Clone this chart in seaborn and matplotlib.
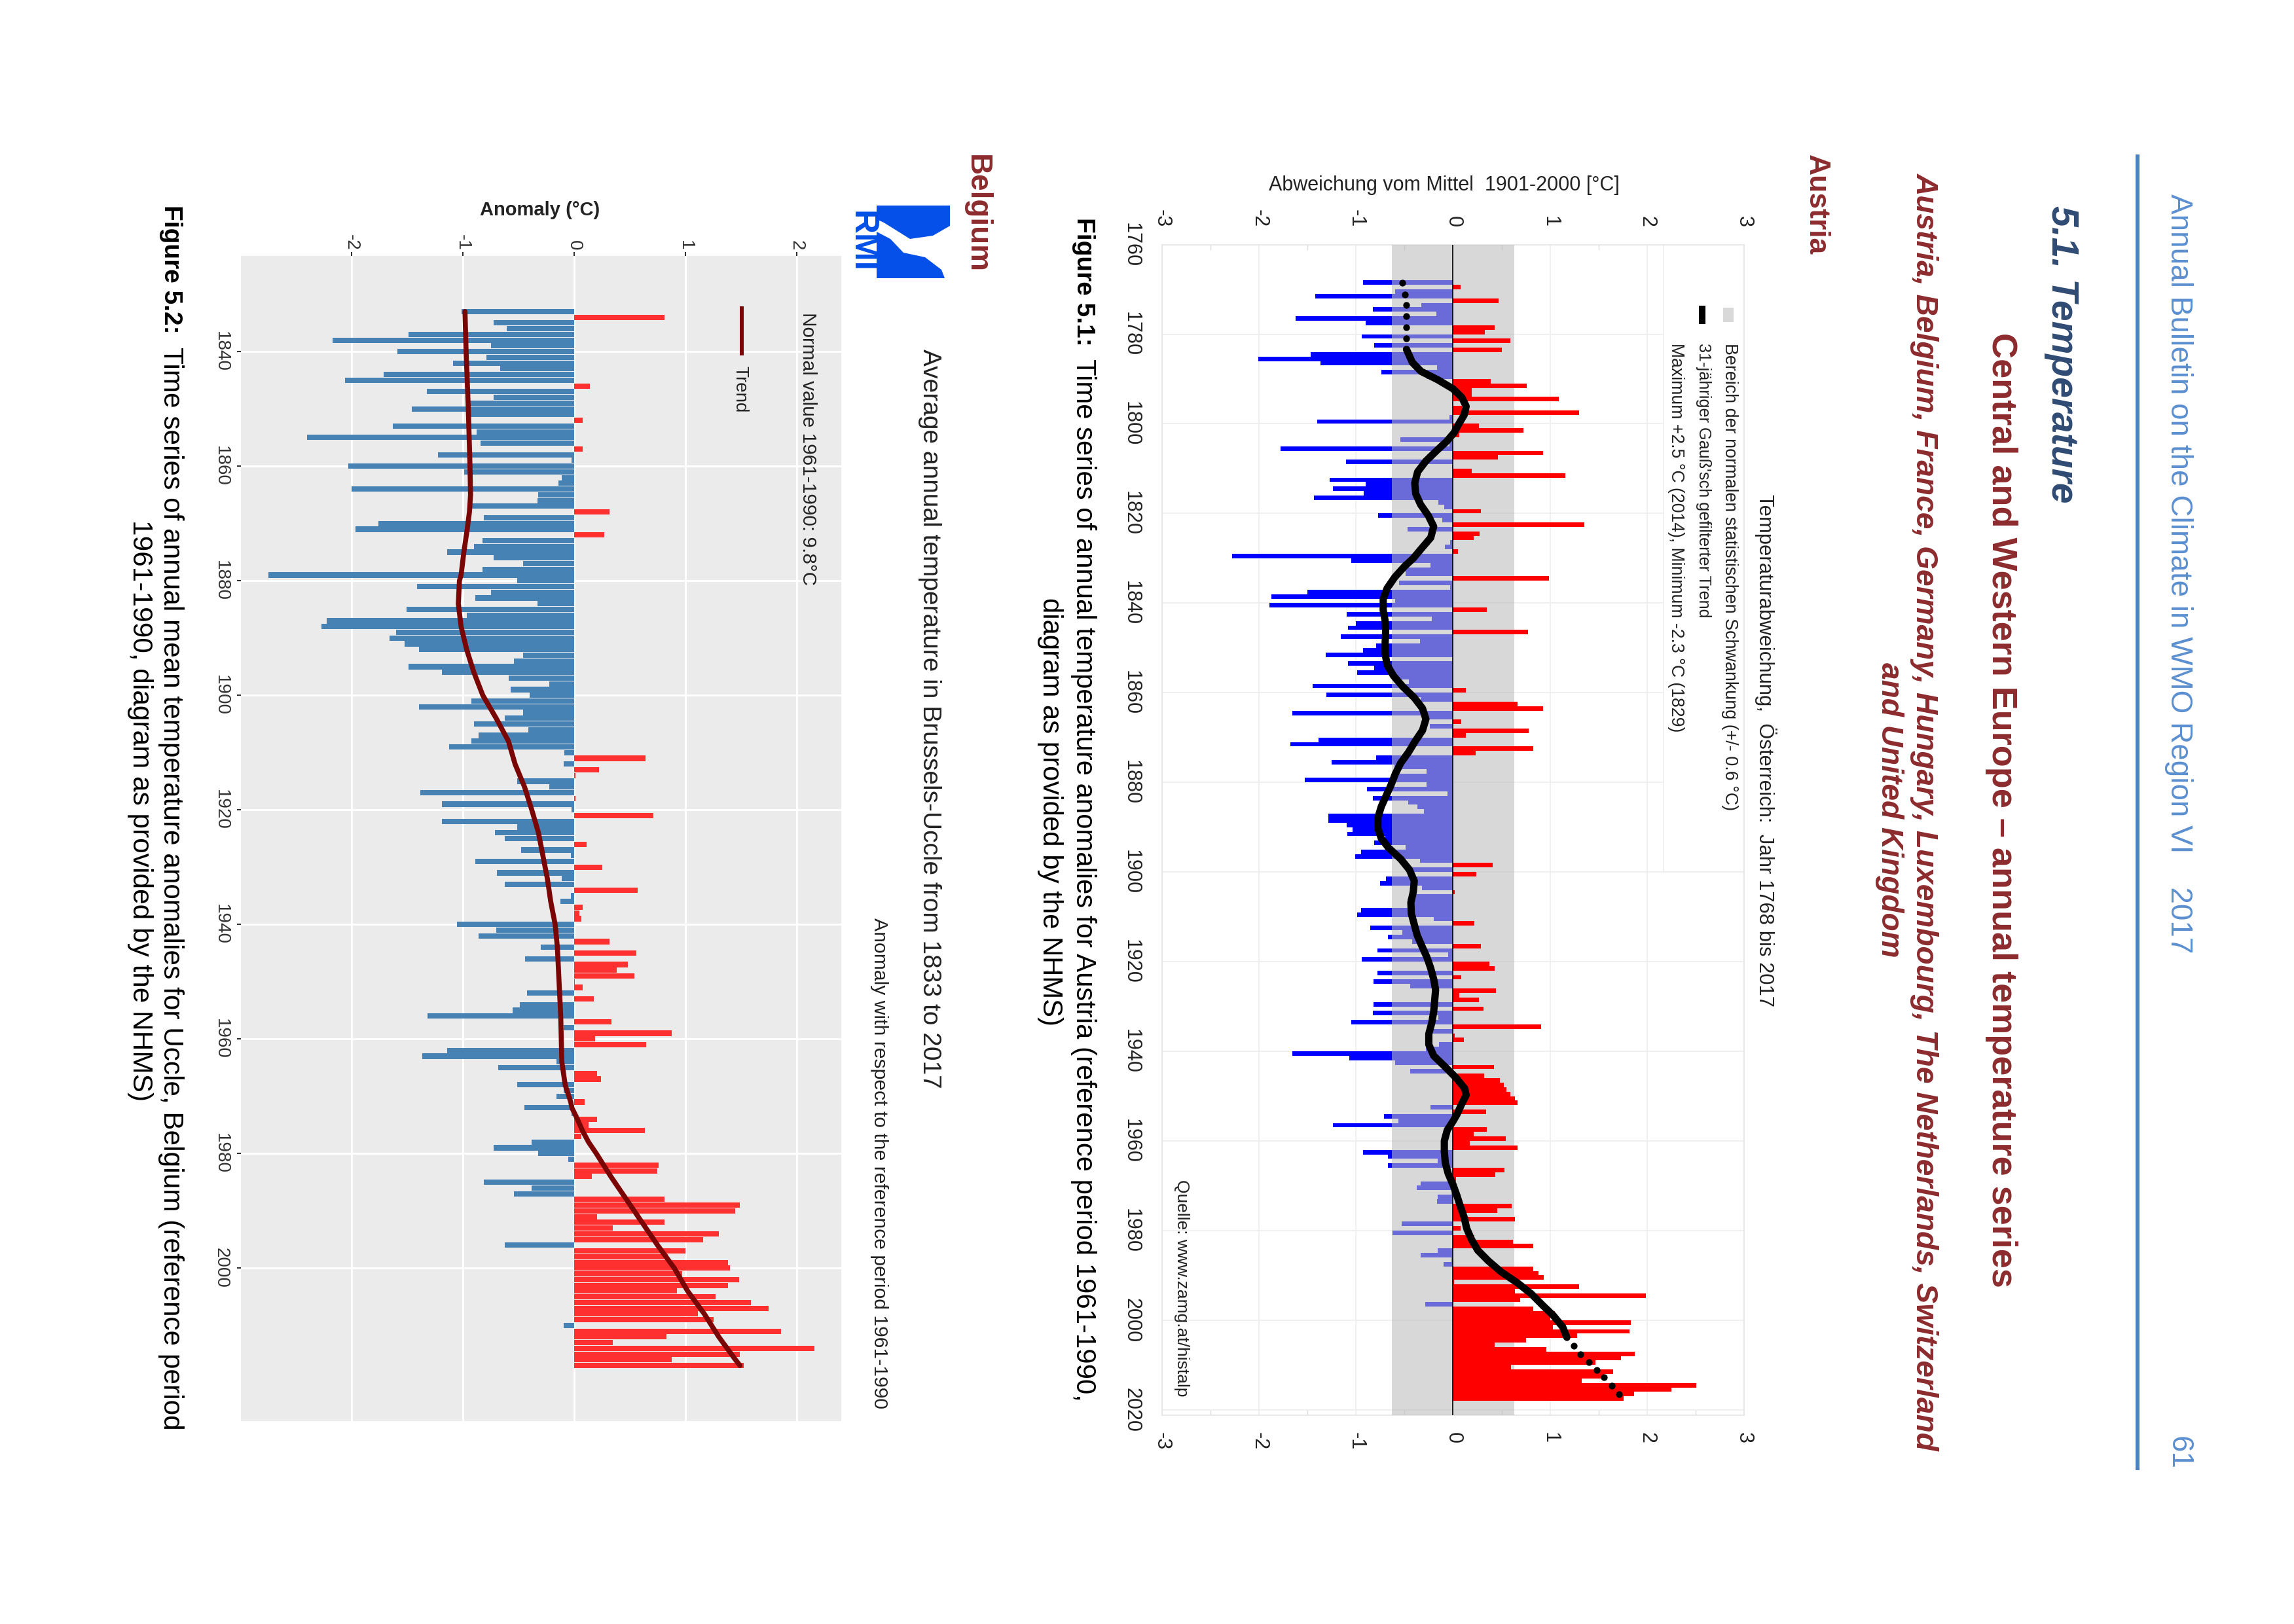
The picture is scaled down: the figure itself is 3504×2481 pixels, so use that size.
import numpy as np
import pandas as pd
import matplotlib
matplotlib.use("Agg")
import matplotlib.pyplot as plt
from matplotlib.patches import Rectangle, Polygon
import seaborn as sns

# --- data ---
AT_YEARS = list(range(1768, 2018))
AT_ANOM = [
    -0.93, 0.08,                                                             # 1768
    -0.60, -1.42, 0.47, -0.33, -0.83, -0.17, -1.62, -0.90, 0.43, 0.33,       # 1770
    -0.94, 0.59, -0.81, 0.50, -1.47, -2.01, -1.37, -0.165, -0.74, -0.27,     # 1780
    0.39, 0.76, 0.19, 0.19, 1.09, -0.01, 0.09, 1.30, -0.04, -1.40,           # 1790
    0.265, 0.725, 0.065, -0.54, -0.04, -1.78, 0.925, 0.465, -1.105, -0.01,   # 1800
    0.19, 1.16, -1.27, -0.90, -1.24, -0.92, -1.435, -0.155, -0.09, 0.29,     # 1810
    -0.77, -0.11, 1.35, -0.47, 0.27, 0.21, -0.03, -0.085, 0.05, -2.28,       # 1820
    -1.05, -0.23, -0.56, -0.49, 0.99, -0.56, -0.03, -1.505, -1.87, -0.60,    # 1830
    -1.89, 0.35, -1.10, -0.22, -1.00, -1.085, 0.775, -1.155, -0.34, -0.79,   # 1840
    -0.925, -1.315, -0.005, -1.085, -0.81, -0.99, -0.57, -0.455, -1.45, 0.13,  # 1850
    -1.305, -0.335, 0.665, 0.925, -1.66, -0.29, 0.085, -0.24, 0.78, 0.13,    # 1860
    -1.39, -1.68, 0.83, 0.235, -0.79, -1.25, -0.605, -0.275, -0.61, -1.53,   # 1870
    -0.27, -0.885, -0.06, -0.825, -0.465, -0.365, -0.30, -1.285, -1.285, -1.10,  # 1880
    -1.035, -1.09, -0.70, -0.81, -0.49, -0.95, -1.01, -0.34, 0.41, -0.43,    # 1890
    0.24, -0.695, -0.75, -0.32, 0.02, -0.40, -0.47, -0.47, -0.945, -0.99,    # 1900
    -0.20, 0.22, -0.855, -0.52, -0.67, -0.42, 0.29, -0.78, -0.05, -0.94,     # 1910
    0.375, 0.43, -0.78, 0.085, -0.82, -0.44, 0.44, 0.065, 0.265, -0.82,      # 1920
    0.315, -0.825, -0.15, -1.05, 0.91, -0.21, 0.02, 0.11, -0.145, -0.28,     # 1930
    -1.66, -1.07, -0.60, 0.42, -0.44, 0.32, 0.48, 0.525, 0.55, 0.59,         # 1940
    0.64, 0.665, -0.23, 0.34, -0.71, -0.565, -1.24, 0.345, 0.21, 0.54,       # 1950
    0.17, 0.665, -0.93, -0.67, -0.16, -0.67, 0.53, 0.435, 0.03, -0.335,      # 1960
    -0.375, -0.02, -0.16, -0.165, 0.605, 0.455, 0.135, 0.635, -0.53, 0.08,   # 1970
    -0.625, 0.22, 0.62, 0.825, -0.16, -0.335, -0.02, -0.10, 0.83, 0.88,      # 1980
    0.935, 0.01, 1.30, 0.635, 1.99, 0.69, -0.29, 0.83, 1.05, 1.00,           # 1990
    1.83, 1.03, 1.82, 1.28, 0.75, 0.43, 0.96, 1.87, 1.73, 1.465,             # 2000
    0.60, 1.65, 1.555, 1.325, 2.51, 2.25, 1.865, 1.755,                      # 2010
]
AT_TREND_YEARS = [
    1783.4, 1786.3, 1788.3, 1790.2, 1792.2, 1794.1, 1796.1, 1798, 1800, 1802, 1803.9, 1805.9,
    1808.3, 1810.7, 1813.2, 1815.6, 1818, 1820.5, 1822.9, 1825.4, 1827.8, 1830, 1831.8, 1834.2,
    1836.7, 1839.1, 1841.6, 1844, 1846.4, 1848.9, 1851.3, 1853.8, 1856.2, 1858.6, 1861.1, 1863.5,
    1865.9, 1868.4, 1870.8, 1873.3, 1875.7, 1878.1, 1880.6, 1883, 1885.4, 1887.9, 1890.3, 1892.5,
    1894.6, 1897.1, 1899.5, 1902, 1904.4, 1906.8, 1909.3, 1911.7, 1914.1, 1916.6, 1919, 1921.5,
    1923.9, 1926.3, 1928.8, 1931.2, 1933.7, 1936.1, 1938.5, 1941, 1943.4, 1945.9, 1948.3, 1949.8,
    1951.7, 1954.1, 1955.6, 1957.6, 1960, 1962.4, 1964.9, 1967.3, 1969.8, 1972.2, 1974.6, 1977.1,
    1979.5, 1982, 1984.4, 1986.8, 1989.3, 1991.7, 1994.1, 1996.6, 1999, 2001.5, 2003.7,
]
AT_TREND = [
    -0.48, -0.42, -0.33, -0.155, 0.0, 0.09, 0.135, 0.115, 0.06, 0.01, -0.065, -0.165,
    -0.28, -0.365, -0.395, -0.385, -0.335, -0.255, -0.20, -0.23, -0.325, -0.41, -0.50, -0.60,
    -0.68, -0.72, -0.72, -0.70, -0.695, -0.70, -0.70, -0.68, -0.615, -0.52, -0.40, -0.315,
    -0.28, -0.315, -0.39, -0.46, -0.54, -0.595, -0.64, -0.69, -0.74, -0.775, -0.775, -0.74,
    -0.665, -0.54, -0.45, -0.40, -0.41, -0.435, -0.43, -0.40, -0.37, -0.32, -0.27, -0.23,
    -0.20, -0.18, -0.19, -0.20, -0.22, -0.25, -0.25, -0.20, -0.085, 0.03, 0.12, 0.135,
    0.09, 0.04, 0.0, -0.06, -0.09, -0.09, -0.08, -0.05, 0.0, 0.04, 0.075, 0.115,
    0.14, 0.19, 0.255, 0.365, 0.50, 0.665, 0.805, 0.92, 1.035, 1.13, 1.17,
]
AT_DOT_YEARS = [1768.6, 1771.1, 1773.5, 1776, 1778.4, 1780.9,
                2003.8, 2005.7, 2007.6, 2009.3, 2011.1, 2012.8, 2014.6, 2016.5]
AT_DOTS = [-0.52, -0.495, -0.485, -0.48, -0.48, -0.485,
           1.17, 1.245, 1.315, 1.40, 1.48, 1.555, 1.635, 1.71]
AT_BAND = 0.63

BE_YEARS = list(range(1833, 2018))
BE_ANOM = [
    -1.01, 0.81, -0.725, -0.605, -1.49, -2.17, -0.745,                      # 1833
    -1.59, -0.79, -1.09, -0.665, -1.71, -2.06, 0.14, -1.32, -0.725, -0.97,   # 1840
    -1.46, -0.95, 0.08, -1.63, -0.875, -2.40, -0.84, 0.08, -1.22, -0.025,    # 1850
    -2.03, -0.99, -0.11, -0.14, -2.00, -0.32, -0.33, -0.925, 0.32, -0.81,    # 1860
    -1.76, -1.965, 0.27, -0.825, -0.90, -1.14, -0.725, -0.46, -0.825, -2.745,  # 1870
    -0.51, -1.41, -0.745, -0.885, -0.33, -1.505, -0.965, -2.22, -2.27, -1.60,  # 1880
    -1.66, -1.52, -1.395, -0.46, -0.54, -1.49, -1.19, -0.59, -0.22, -0.57,   # 1890
    -0.40, -0.92, -1.395, -0.46, -0.62, -0.90, -0.41, -0.855, -0.92, -1.125,  # 1900
    -0.09, 0.64, -0.095, 0.225, 0.015, -0.51, -0.22, -1.38, 0.015, -1.19,    # 1910
    -0.025, 0.715, -1.19, -0.51, -0.71, -0.62, 0.11, -0.475, -0.03, -0.885,  # 1920
    0.255, -0.695, -0.11, -0.62, 0.57, -0.03, -0.125, 0.08, 0.05, 0.065,     # 1930
    -1.05, -0.70, -0.855, 0.32, -0.30, 0.56, -0.44, 0.48, 0.385, 0.54,       # 1940
    0.005, 0.08, -0.425, 0.18, -0.49, -0.555, -1.315, 0.335, -0.095, 0.875,  # 1950
    0.19, 0.65, -1.14, -1.365, -0.16, -0.68, 0.205, 0.24, -0.51, -0.095,     # 1960
    -0.16, 0.095, -0.445, -0.02, 0.205, 0.13, 0.635, 0.065, -0.38, -0.725,   # 1970
    -0.32, -0.05, 0.76, 0.75, 0.16, -0.81, -0.38, -0.54, 0.81, 1.49,         # 1980
    1.445, 0.205, 0.81, 0.35, 1.30, 1.16, -0.62, 1.00, 0.84, 1.38,           # 1990
    1.40, 0.97, 1.48, 1.38, 0.925, 1.27, 1.59, 1.745, 1.11, 1.255,           # 2000
    -0.095, 1.86, 0.83, 0.35, 2.16, 1.49, 0.875, 1.525,                      # 2010
]
BE_TREND_YEARS = [
    1833, 1840, 1850, 1860, 1865, 1868, 1871, 1875, 1879, 1880, 1884, 1888, 1892, 1896, 1900,
    1904, 1908, 1912, 1916, 1920, 1924, 1926, 1928, 1932, 1936, 1940, 1944, 1948, 1952, 1956,
    1960, 1964, 1968, 1971, 1972, 1974, 1976, 1978, 1980, 1984, 1988, 1992, 1996, 2000, 2004,
    2008, 2012, 2016, 2017,
]
BE_TREND = [
    -0.98, -0.97, -0.95, -0.935, -0.93, -0.94, -0.96, -0.99, -1.015, -1.03, -1.04, -1.015, -0.965, -0.90, -0.82,
    -0.70, -0.59, -0.53, -0.445, -0.38, -0.32, -0.30, -0.28, -0.24, -0.21, -0.17, -0.15, -0.14, -0.13, -0.12,
    -0.115, -0.11, -0.08, -0.03, -0.02, 0.03, 0.075, 0.13, 0.20, 0.33, 0.47, 0.61, 0.75, 0.90, 1.02,
    1.17, 1.30, 1.45, 1.49,
]

AT_VALUE_TICKS = [-3, -2, -1, 0, 1, 2, 3]
AT_YEAR_TICKS = list(range(1760, 2021, 20))
BE_VALUE_TICKS = [-2, -1, 0, 1, 2]
BE_YEAR_TICKS = list(range(1840, 2001, 20))

# --- page layout, everything is in pixels of the rotated page ---
W, H = 3504, 2481
BLUE_HEAD = "#5B8FD0"
DARK_RED = "#8C2B2E"
NAVY = "#2F4B73"
FONT = "Liberation Sans"

sns.set_theme(style="white")
plt.rcParams["font.family"] = FONT
plt.rcParams["axes.unicode_minus"] = False

fig = plt.figure(figsize=(W / 100, H / 100), dpi=100, facecolor="white")


def page_text(x, y, s, size, color="black", weight="normal", style="normal", ha="center", rotation=-90):
    """Text placed in page pixels, rotated with the page by default."""
    fig.text(x / W, 1 - y / H, s, fontsize=size, color=color, fontweight=weight, fontstyle=style,
             ha=ha, va="center", rotation=rotation, rotation_mode="anchor")


def page_axes(left, right, top, bottom):
    return fig.add_axes([left / W, 1 - bottom / H, (right - left) / W, (bottom - top) / H])


def page_poly(points, color):
    pts = [(x / W, 1 - y / H) for x, y in points]
    fig.add_artist(Polygon(pts, closed=True, transform=fig.transFigure, facecolor=color, edgecolor="none"))


def draw_bars(ax, df, color, width, zorder):
    sns.barplot(data=df, x="anomaly", y="pos", orient="y", native_scale=True, color=color, saturation=1,
                width=width, gap=0, errorbar=None, linewidth=0, ax=ax, zorder=zorder)


# --- page header ---
page_poly([(3262, 236), (3268, 236), (3268, 2246), (3262, 2246)], "#4F81BD")
page_text(3328, 296, "Annual Bulletin on the Climate in WMO Region VI    2017", 33, BLUE_HEAD, ha="left")
page_text(3328, 2220, "61", 33, BLUE_HEAD)
page_text(3149, 314, "5.1. Temperature", 41, NAVY, weight="bold", style="italic", ha="left")
page_text(3057, 1237, "Central and Western Europe – annual temperature series", 38.9, DARK_RED, weight="bold")
page_text(2940, 1240, "Austria, Belgium, France, Germany, Hungary, Luxembourg, The Netherlands, Switzerland", 33.2,
          DARK_RED, weight="bold", style="italic")
page_text(2886, 1237, "and United Kingdom", 33.2, DARK_RED, weight="bold", style="italic")
page_text(2774, 236, "Austria", 32, DARK_RED, weight="bold", ha="left")
page_text(1492, 236, "Belgium", 33, DARK_RED, weight="bold", ha="left")

# --- Austria ---
at = pd.DataFrame({"year": AT_YEARS, "anomaly": AT_ANOM})
at["pos"] = at["year"] + 0.5  # bars fill the span of their year

ax1 = page_axes(1775, 2664, 373.6, 2162)
ax1.set_facecolor("white")
draw_bars(ax1, at[at["anomaly"] < 0], "#0000FF", 1, 2)
ax1.axvspan(-AT_BAND, AT_BAND, facecolor="#BBBBBB", alpha=0.57, edgecolor="none", zorder=3)
draw_bars(ax1, at[at["anomaly"] >= 0], "#FF0000", 1, 4)
ax1.axvline(0, color="black", lw=1.2, zorder=5)
sns.lineplot(x=AT_TREND, y=AT_TREND_YEARS, orient="y", sort=False, color="black", lw=8, ax=ax1, zorder=6,
             solid_capstyle="round", solid_joinstyle="round", errorbar=None)
sns.scatterplot(x=AT_DOTS, y=AT_DOT_YEARS, color="black", s=55, linewidth=0, ax=ax1, zorder=6)

ax1.set_xlim(-3, 3)
ax1.set_ylim(2021.2, 1760)
ax1.set_xticks(AT_VALUE_TICKS)
ax1.set_xticklabels([str(v) for v in AT_VALUE_TICKS])
ax1.set_yticks(AT_YEAR_TICKS)
ax1.set_yticklabels([str(v) for v in AT_YEAR_TICKS])
ax1.set_xticks(np.arange(-2.5, 3, 1), minor=True)
ax1.grid(True, which="major", color="#EDEDED", lw=1.2, zorder=0)
ax1.set_axisbelow(True)
ax1.tick_params(axis="x", which="major", length=0, labeltop=True, labelbottom=True, labelrotation=-90,
                labelsize=22, pad=19, colors="#222222")
ax1.tick_params(axis="x", which="minor", length=6, top=True, bottom=True, direction="in", color="#DDDDDD")
ax1.tick_params(axis="y", length=0, labelrotation=-90, labelsize=22, pad=23, colors="#222222")
for lab in ax1.get_yticklabels():
    lab.set_va("center")
ax1.set_xlabel("")
ax1.set_ylabel("")
for sp in ax1.spines.values():
    sp.set_color("#E4E4E4")
    sp.set_linewidth(1.2)
# legend box hides the grid on the right side
ax1.add_patch(Rectangle((2.17, 1760), 0.83, 140, facecolor="white", edgecolor="#EDEDED", lw=1.2, zorder=1))

page_text(2206, 283, "Abweichung vom Mittel  1901-2000 [°C]", 22, "#222222", rotation=0)
page_text(2697, 755, "Temperaturabweichung,  Österreich:  Jahr 1768 bis 2017", 22.3, "#222222", ha="left")
page_text(2642, 524, "Bereich der normalen statistischen Schwankung (+/- 0.6 °C)", 19.4, "#222222", ha="left")
page_text(2602, 524, "31-jähriger Gauß'sch gefilterter Trend", 18.2, "#222222", ha="left")
page_text(2560, 524, "Maximum +2.5 °C (2014), Minimum -2.3 °C (1829)", 19.2, "#222222", ha="left")
page_text(1805, 1802, "Quelle: www.zamg.at/histalp", 19, "#222222", ha="left")
page_poly([(2632, 470), (2648, 470), (2648, 492), (2632, 492)], "#D9D9D9")
page_poly([(2595, 467), (2605, 467), (2605, 495), (2595, 495)], "black")

page_text(1655, 332, "Figure 5.1:", 28, weight="bold", ha="left")
page_text(1655, 548, "Time series of annual temperature anomalies for Austria (reference period 1961-1990,", 30.2, ha="left")
page_text(1604, 1240, "diagram as provided by the NHMS)", 30.2)

# --- Belgium ---
be = pd.DataFrame({"year": BE_YEARS, "anomaly": BE_ANOM})
be["pos"] = be["year"]

ax2 = page_axes(367.6, 1285, 391, 2171)
ax2.set_facecolor("#EBEBEB")
draw_bars(ax2, be[be["anomaly"] < 0], "#4682B4", 0.93, 2)
draw_bars(ax2, be[be["anomaly"] >= 0], "#FF3030", 0.93, 2)
sns.lineplot(x=BE_TREND, y=BE_TREND_YEARS, orient="y", sort=False, color="#7A0505", lw=5.5, ax=ax2, zorder=4,
             solid_joinstyle="round", errorbar=None)

ax2.set_xlim(-2.995, 2.40)
ax2.set_ylim(2026.7, 1823.3)
ax2.set_xticks(BE_VALUE_TICKS)
ax2.set_xticklabels([str(v) for v in BE_VALUE_TICKS])
ax2.set_yticks(BE_YEAR_TICKS)
ax2.set_yticklabels([str(v) for v in BE_YEAR_TICKS])
ax2.grid(True, which="major", color="white", lw=2.2, zorder=0)
ax2.set_axisbelow(True)
ax2.tick_params(axis="x", length=4, width=1.5, top=True, bottom=False, labeltop=True, labelbottom=False,
                labelrotation=-90, labelsize=20, pad=2, color="#333333", labelcolor="#333333")
ax2.tick_params(axis="y", length=4, width=1.5, left=True, labelrotation=-90, labelsize=20, pad=8,
                color="#333333", labelcolor="#333333")
for lab in ax2.get_yticklabels():
    lab.set_va("center")
ax2.set_xlabel("")
ax2.set_ylabel("")
sns.despine(ax=ax2, left=True, bottom=True)

page_text(825, 321, "Anomaly (°C)", 21, "#222222", weight="bold", rotation=0)
page_text(1420, 533, "Average annual temperature in Brussels-Uccle from 1833 to 2017", 28, "#222222", ha="left")
page_text(1234, 477, "Normal value 1961-1990: 9.8°C", 21.4, "#222222", ha="left")
page_text(1343, 1402, "Anomaly with respect to the reference period 1961-1990", 21.7, "#222222", ha="left")
page_text(1130, 559, "Trend", 20, "#222222", ha="left")
page_poly([(1130, 468), (1136, 468), (1136, 543), (1130, 543)], "#7A0505")

# RMI logo
RMI_BLUE = "#0450E8"
page_poly([(1339, 314), (1451, 314), (1451, 345), (1425, 360), (1390, 365), (1350, 340), (1339, 335)], RMI_BLUE)
page_poly([(1339, 354), (1360, 365), (1380, 386), (1413, 393), (1438, 412), (1443, 425), (1339, 425)], RMI_BLUE)
page_text(1316, 369, "RMI", 37, RMI_BLUE, weight="bold")

page_text(261, 313, "Figure 5.2:", 28, weight="bold", ha="left")
page_text(261, 530, "Time series of annual mean temperature anomalies for Uccle, Belgium (reference period", 30.5, ha="left")
page_text(214, 1238, "1961-1990, diagram as provided by the NHMS)", 30.5)

fig.savefig("out.png", dpi=100, facecolor="white")
